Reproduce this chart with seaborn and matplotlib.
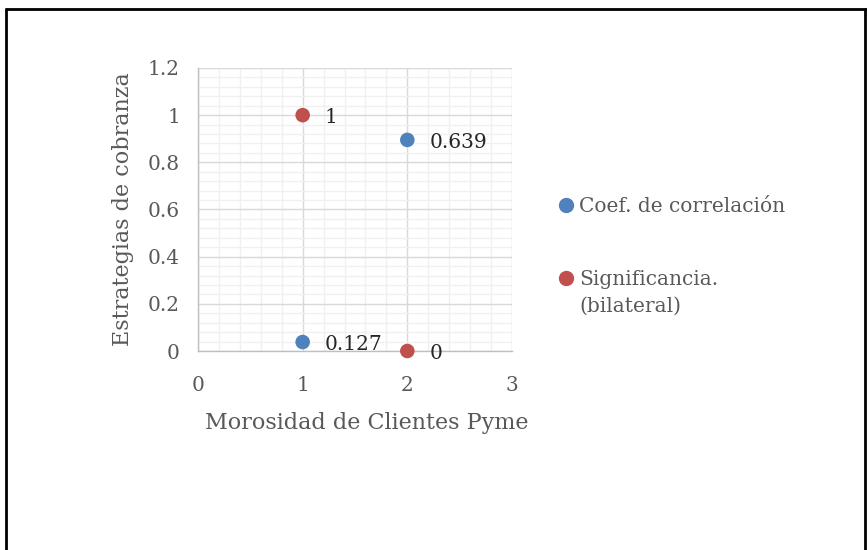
import matplotlib
matplotlib.use("Agg")
import matplotlib.pyplot as plt
from matplotlib.ticker import MultipleLocator
from matplotlib.lines import Line2D
import seaborn as sns
import pandas as pd

# data
series = ["Coef. de correlación", "Significancia.\n(bilateral)"]
coef_x = [1, 2]
coef_y = [0.038, 0.895]
coef_labels = ["0.127", "0.639"]
sig_x = [1, 2]
sig_y = [1.0, 0.0]
sig_labels = ["1", "0"]
colors = ["#4f81bd", "#c0504d"]

df = pd.DataFrame({
    "x": coef_x + sig_x,
    "y": coef_y + sig_y,
    "label": coef_labels + sig_labels,
    "serie": [series[0]] * len(coef_x) + [series[1]] * len(sig_x),
})

sns.set_theme(style="white")
plt.rcParams["font.family"] = ["DejaVu Serif"]
text_col = "#595959"

fig = plt.figure(figsize=(8.67, 5.5), dpi=100)
ax = fig.add_axes([0.2284, 0.3618, 0.3621, 0.5146])

sns.scatterplot(data=df, x="x", y="y", hue="serie", palette=colors,
                s=110, edgecolor="none", ax=ax, legend=False, zorder=5, clip_on=False)

for _, r in df.iterrows():
    ax.annotate(r["label"], (r["x"], r["y"]), xytext=(16, -2), textcoords="offset points",
                va="center", ha="left", fontsize=14.5, color="#262626", zorder=6)

ax.set_xlim(0, 3)
ax.set_ylim(0, 1.2)
ax.xaxis.set_major_locator(MultipleLocator(1))
ax.xaxis.set_minor_locator(MultipleLocator(0.2))
ax.yaxis.set_major_locator(MultipleLocator(0.2))
ax.yaxis.set_minor_locator(MultipleLocator(0.04))
ax.set_yticks([0, 0.2, 0.4, 0.6, 0.8, 1.0, 1.2])
ax.set_yticklabels(["0", "0.2", "0.4", "0.6", "0.8", "1", "1.2"])
ax.grid(which="major", color="#d9d9d9", lw=1.0)
ax.grid(which="minor", color="#f0f0f0", lw=1.0)
ax.set_axisbelow(True)

for s in ["top", "right"]:
    ax.spines[s].set_visible(False)
for s in ["left", "bottom"]:
    ax.spines[s].set_color("#bfbfbf")
    ax.spines[s].set_linewidth(1.0)
ax.tick_params(which="major", direction="out", length=5, width=1, color="#bfbfbf",
               labelsize=14.5, labelcolor=text_col, pad=8)
ax.tick_params(axis="x", which="major", pad=13)
ax.tick_params(which="minor", length=0)

ax.set_xlabel("Morosidad de Clientes Pyme", fontsize=16, color=text_col)
ax.set_ylabel("Estrategias de cobranza", fontsize=16, color=text_col)
ax.xaxis.set_label_coords(0.538, -0.215)
ax.yaxis.set_label_coords(-0.204, 0.5)

# legend drawn Excel-style: marker beside the first text line
leg_y = [0.627, 0.4945]
for c, lab, y in zip(colors, series, leg_y):
    fig.add_artist(Line2D([0.6528], [y], marker="o", ls="none", color=c, markersize=10,
                          transform=fig.transFigure))
    fig.text(0.6678, y + 0.015, lab, ha="left", va="top", fontsize=14.5, color=text_col,
             linespacing=1.55)

# outer frame (left, top, right)
fig.add_artist(Line2D([0.0069, 0.0069], [0, 0.984], color="black", lw=2, transform=fig.transFigure))
fig.add_artist(Line2D([0.0069, 1.0], [0.984, 0.984], color="black", lw=2, transform=fig.transFigure))
fig.add_artist(Line2D([0.998, 0.998], [0, 0.984], color="black", lw=2, transform=fig.transFigure))

fig.savefig("out.png", dpi=100, facecolor="white")
